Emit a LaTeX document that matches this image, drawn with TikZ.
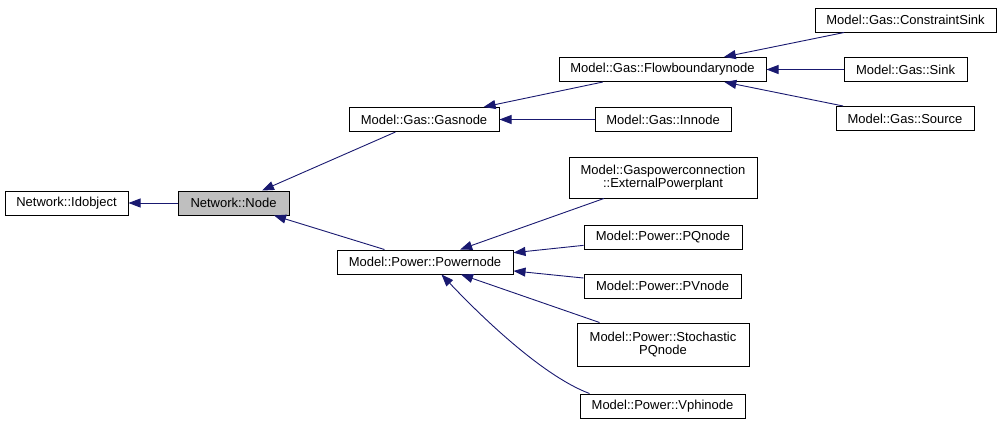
\documentclass[tikz,border=0pt]{standalone}
\usepackage{fontspec}
\setmainfont{Liberation Sans}
\usetikzlibrary{arrows.meta,calc}
\definecolor{edgeblue}{HTML}{191970}
\begin{document}
\begin{tikzpicture}[x=1pt,y=-1pt,
  cls/.style={draw=black, line width=1pt, fill=white, inner sep=0pt, align=center,
    font=\fontsize{13}{13.5}\selectfont, minimum height=24pt},
  cur/.style={cls, fill=black!25},
  inh/.style={draw=edgeblue, line width=0.9pt, -{Triangle[length=12pt,width=9pt]}}]
\useasboundingbox (0,0) rectangle (1003,424);
\node[cls, minimum width=123pt] (idobj) at (66.5,203) {Network::Idobject};
\node[cur, minimum width=111pt] (node) at (233.5,203) {Network::Node};
\node[cls, minimum width=150pt] (gasnode) at (424,119.5) {Model::Gas::Gasnode};
\node[cls, minimum width=136pt] (innode) at (663,119.5) {Model::Gas::Innode};
\node[cls, minimum width=207pt] (flow) at (662.5,69.5) {Model::Gas::Flowboundarynode};
\node[cls, minimum width=181pt] (csink) at (905.5,20) {Model::Gas::ConstraintSink};
\node[cls, minimum width=123pt] (sink) at (905.5,69.5) {Model::Gas::Sink};
\node[cls, minimum width=138pt] (source) at (905,118.5) {Model::Gas::Source};
\node[cls, minimum width=188pt, minimum height=41pt] (gpc) at (663,177.5) {Model::Gaspowerconnection\\::ExternalPowerplant};
\node[cls, minimum width=158pt] (pq) at (663,237) {Model::Power::PQnode};
\node[cls, minimum width=176pt] (power) at (425,262) {Model::Power::Powernode};
\node[cls, minimum width=157pt] (pv) at (662.5,286) {Model::Power::PVnode};
\node[cls, minimum width=172pt, minimum height=43pt] (stoch) at (663,344.5) {Model::Power::Stochastic\\PQnode};
\node[cls, minimum width=165pt] (vphi) at (662.5,406) {Model::Power::Vphinode};
\draw[inh] (node) -- (idobj);
\draw[inh] (gasnode) -- (node);
\draw[inh] (power) -- (node);
\draw[inh] (flow) -- (gasnode);
\draw[inh] (innode) -- (gasnode);
\draw[inh] (csink) -- (flow);
\draw[inh] (sink) -- (flow);
\draw[inh] (source) -- (flow);
\draw[inh] (gpc) -- (power);
\draw[inh] (pq) -- (power);
\draw[inh] (pv) -- (power);
\draw[inh] (stoch) -- (power);
\draw[inh] ($(vphi.north west)+(10,0)$) .. controls (540,375) and (475,310) .. ($(power.south west)+(105,0)$);
\end{tikzpicture}
\end{document}
